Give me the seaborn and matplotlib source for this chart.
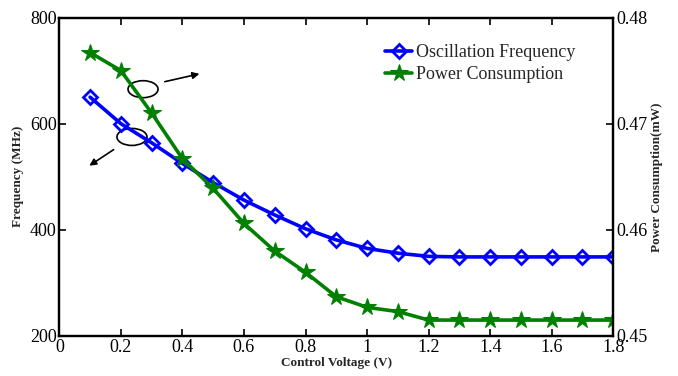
import matplotlib
matplotlib.use('Agg')
import matplotlib.pyplot as plt
from matplotlib.patches import Ellipse
import seaborn as sns
import pandas as pd

# data
voltage = [0.1, 0.2, 0.3, 0.4, 0.5, 0.6, 0.7, 0.8, 0.9, 1.0,
           1.1, 1.2, 1.3, 1.4, 1.5, 1.6, 1.7, 1.8]
frequency = [650, 600, 564, 525, 489, 456, 428, 402, 381, 365,
             356, 350, 349, 349, 349, 349, 349, 349]
power = [0.4767, 0.4750, 0.4710, 0.4667, 0.4639, 0.4606, 0.4580, 0.4560, 0.4537, 0.4527,
         0.4523, 0.4515, 0.4515, 0.4515, 0.4515, 0.4515, 0.4515, 0.4515]
x_ticks = [0, 0.2, 0.4, 0.6, 0.8, 1, 1.2, 1.4, 1.6, 1.8]
x_tick_labels = ['0', '0.2', '0.4', '0.6', '0.8', '1', '1.2', '1.4', '1.6', '1.8']
freq_ticks = [200, 400, 600, 800]
power_ticks = [0.45, 0.46, 0.47, 0.48]

df = pd.DataFrame({'voltage': voltage, 'frequency': frequency, 'power': power})

sns.set_style('white')
plt.rcParams['font.family'] = ['Liberation Serif', 'DejaVu Serif']

fig = plt.figure(figsize=(6.78, 3.76), dpi=100)
ax = fig.add_axes([0.0875, 0.1064, 0.817, 0.847])
ax2 = ax.twinx()

blue = '#0000ff'
green = '#008000'

sns.lineplot(data=df, x='voltage', y='frequency', ax=ax, color=blue, linewidth=2.6,
             marker='D', markersize=7, markerfacecolor='none', markeredgecolor=blue,
             markeredgewidth=2, label='Oscillation Frequency', legend=False)
sns.lineplot(data=df, x='voltage', y='power', ax=ax2, color=green, linewidth=2.6,
             marker='*', markersize=13, markerfacecolor=green, markeredgecolor=green,
             label='Power Consumption', legend=False)

ax.set_xlim(0, 1.8)
ax.set_ylim(200, 800)
ax2.set_ylim(0.45, 0.48)
ax.set_xticks(x_ticks)
ax.set_xticklabels(x_tick_labels)
ax.set_yticks(freq_ticks)
ax2.set_yticks(power_ticks)
ax2.set_yticklabels(['0.45', '0.46', '0.47', '0.48'])

for a in (ax, ax2):
    for s in a.spines.values():
        s.set_linewidth(1.6)
        s.set_color('black')
    a.tick_params(direction='in', length=5, width=1.2, labelsize=13, pad=2, colors='black')
ax.tick_params(axis='x', top=True, bottom=True)
ax.tick_params(axis='y', left=True, right=False)
ax2.tick_params(axis='y', right=True, left=False)

ax.set_xlabel('Control Voltage (V)', fontsize=9.5, fontweight='bold', labelpad=1)
ax.set_ylabel('Frequency (MHz)', fontsize=9.5, fontweight='bold', labelpad=4)
ax2.set_ylabel('Power Consumption(mW)', fontsize=9.5, fontweight='bold', labelpad=3)

# legend with both series
h1, l1 = ax.get_legend_handles_labels()
h2, l2 = ax2.get_legend_handles_labels()
ax2.legend(h1 + h2, l1 + l2, loc='upper left', bbox_to_anchor=(0.575, 0.94),
           frameon=False, fontsize=13, handlelength=1.5, handletextpad=0.2,
           labelspacing=0.3, borderaxespad=0)

# ellipses and arrows marking which axis each curve belongs to
ax.add_patch(Ellipse((0.272, 665), 0.0975, 32, fill=False, edgecolor='black', linewidth=1.2))
ax.annotate('', xy=(0.464, 695), xytext=(0.334, 678),
            arrowprops=dict(arrowstyle='-|>', color='black', lw=1.2, mutation_scale=10))
ax.add_patch(Ellipse((0.236, 575), 0.0975, 32, fill=False, edgecolor='black', linewidth=1.2))
ax.annotate('', xy=(0.090, 518), xytext=(0.184, 554),
            arrowprops=dict(arrowstyle='-|>', color='black', lw=1.2, mutation_scale=10))

fig.savefig('out.png', dpi=100)
